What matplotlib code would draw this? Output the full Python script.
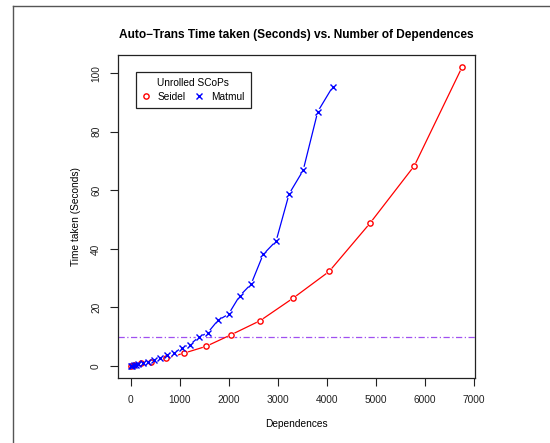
import matplotlib
matplotlib.use("Agg")
import matplotlib.pyplot as plt
from matplotlib.lines import Line2D

plt.rcParams['font.family'] = ['Liberation Sans', 'DejaVu Sans']

# data
seidel_deps = [10, 60, 200, 400, 707, 1082, 1531, 2047, 2639, 3313, 4048, 4884, 5789, 6761]
seidel_time = [0.05, 0.3, 0.9, 1.4, 2.6, 4.4, 6.7, 10.7, 15.5, 23.2, 32.3, 48.8, 68.4, 102.0]

matmul_deps = [8, 27, 64, 100, 149, 251, 353, 476, 592, 741, 884, 1041, 1204, 1388,
               1565, 1776, 1993, 2218, 2455, 2700, 2965, 3231, 3517, 3816, 4122]
matmul_time = [0.05, 0.1, 0.2, 0.4, 0.7, 1.0, 1.4, 1.9, 2.6, 3.9, 4.5, 6.3, 7.3, 9.9,
               11.3, 15.6, 17.7, 23.9, 28.0, 38.1, 42.7, 58.8, 66.8, 86.9, 95.4]

threshold = 10
x_ticks = [0, 1000, 2000, 3000, 4000, 5000, 6000, 7000]
y_ticks = [0, 20, 40, 60, 80, 100]

fig = plt.figure(figsize=(5.5, 4.43), dpi=100)
ax = fig.add_axes([0.214, 0.1467, 0.650, 0.7283])

# lijnen met gaten rond de punten (zoals type="b" in R)
def plot_b(x, y, color, marker):
    ax.plot(x, y, color=color, lw=0.9, zorder=2)
    ax.plot(x, y, ls='none', marker='o', ms=5.5, mfc='white', mec='none', zorder=3)
    ax.plot(x, y, ls='none', marker=marker, ms=3.8,
            mfc='none', mec=color, mew=1.0, zorder=4)

plot_b(seidel_deps, seidel_time, 'red', 'o')
plot_b(matmul_deps, matmul_time, 'blue', 'x')

ax.axhline(threshold, color='#A050F0', lw=0.9, ls=(0, (5, 2, 1, 2)), zorder=1)

ax.set_xlim(-270, 7031)
ax.set_ylim(-4.08, 106.08)
ax.set_xticks(x_ticks)
ax.set_yticks(y_ticks)
ax.set_yticklabels([str(v) for v in y_ticks], rotation=90, va='center')
ax.tick_params(axis='both', direction='out', length=6, width=0.8, labelsize=7.3,
               colors='#222222', pad=6)
for s in ax.spines.values():
    s.set_linewidth(0.9)
    s.set_color('#222222')

ax.set_title('Auto\u2212Trans Time taken (Seconds) vs. Number of Dependences',
             fontsize=8.6, fontweight='bold', pad=12.5)
ax.set_xlabel('Dependences', fontsize=7.3, labelpad=10)
ax.set_ylabel('Time taken (Seconds)', fontsize=7.3, labelpad=7.5)

handles = [Line2D([], [], ls='none', marker='o', ms=3.8, mfc='none', mec='red', mew=1.0),
           Line2D([], [], ls='none', marker='x', ms=3.8, mec='blue', mew=1.0)]
leg = ax.legend(handles, ['Seidel', 'Matmul'], title='Unrolled SCoPs', ncol=2,
                loc='upper left', bbox_to_anchor=(0.05, 0.95), fontsize=7.3,
                title_fontsize=7.3, fancybox=False, framealpha=1, edgecolor='#222222',
                handlelength=0.8, handletextpad=0.8, columnspacing=0.9,
                borderpad=0.6, labelspacing=0.4, borderaxespad=0)
leg.get_frame().set_linewidth(0.9)

# rand om de hele figuur
fig.add_artist(Line2D([13 / 550, 1.0], [1 - 6 / 443, 1 - 6 / 443], color='#555555', lw=1.0))
fig.add_artist(Line2D([13 / 550, 13 / 550], [0.0, 1 - 6 / 443], color='#555555', lw=1.0))

fig.savefig('out.png', dpi=100)
